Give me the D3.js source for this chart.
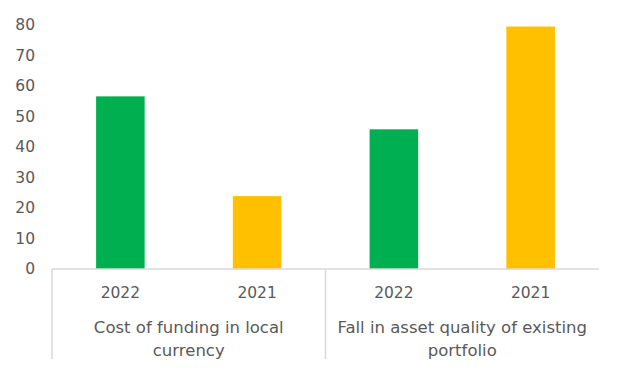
<!DOCTYPE html>
<html>
<head>
<meta charset="utf-8">
<script src="https://cdn.jsdelivr.net/npm/d3@7"></script>
<style>
  body { margin: 0; background: #fff; }
  text { font-family: "DejaVu Sans", sans-serif; fill: #595959; }
</style>
</head>
<body>
<div id="chart"></div>
<script>
/* DATA */
var groups = ["Cost of funding in local currency", "Fall in asset quality of existing portfolio"];
var years = ["2022", "2021"];
var values = [56.6, 23.9, 45.8, 79.5];
var yTicks = [0, 10, 20, 30, 40, 50, 60, 70, 80];
var barColors = ["#00B050", "#FFC000"];

/* one entry per bar, built from the arrays above */
var bars = [];
groups.forEach(function (g, gi) {
  years.forEach(function (yr, yi) {
    bars.push({ key: gi + "-" + yr, group: gi, year: yr, yi: yi, value: values[gi * years.length + yi] });
  });
});

var W = 620, H = 381;
var margin = { top: 25, right: 21, bottom: 112, left: 52 };
var width = W - margin.left - margin.right,
    height = H - margin.top - margin.bottom;

var svg = d3.select("#chart").append("svg")
  .attr("width", W)
  .attr("height", H)
  .append("g")
  .attr("transform", "translate(" + margin.left + "," + margin.top + ")");

/* scales */
var x = d3.scaleBand()
  .domain(bars.map(function (d) { return d.key; }))
  .range([0, width])
  .paddingInner(0.645)
  .paddingOuter(0.3225);

var y = d3.scaleLinear().domain([0, 80]).range([height, 0]);

/* y axis labels only */
var yAxis = svg.append("g")
  .call(d3.axisLeft(y).tickValues(yTicks).tickSize(0).tickPadding(17));
yAxis.select(".domain").remove();
yAxis.selectAll("text").style("font-size", "15.5px").style("font-family", null).attr("fill", "#595959");

/* bars */
svg.selectAll(".bar")
  .data(bars)
  .enter().append("rect")
  .attr("class", "bar")
  .attr("x", function (d) { return x(d.key); })
  .attr("width", x.bandwidth())
  .attr("y", function (d) { return y(d.value); })
  .attr("height", function (d) { return height - y(d.value); })
  .style("fill", function (d) { return barColors[d.yi]; });

/* baseline */
svg.append("line")
  .attr("x1", 0).attr("x2", width)
  .attr("y1", height).attr("y2", height)
  .style("stroke", "#D9D9D9").style("stroke-width", 1.5);

/* group separators */
var step = x.step();
var groupW = step * years.length;
for (var i = 0; i < groups.length; i++) {
  svg.append("line")
    .attr("x1", i * groupW).attr("x2", i * groupW)
    .attr("y1", height).attr("y2", height + 90)
    .style("stroke", "#D9D9D9").style("stroke-width", 1.5);
}

/* year labels */
svg.selectAll(".yr")
  .data(bars)
  .enter().append("text")
  .attr("class", "yr")
  .attr("x", function (d) { return x(d.key) + x.bandwidth() / 2; })
  .attr("y", height + 24)
  .attr("dy", "0.35em")
  .style("text-anchor", "middle")
  .style("font-size", "15.5px")
  .text(function (d) { return d.year; });

/* group labels, wrapped */
function wrap(str, maxW, el) {
  var words = str.split(" "), lines = [], line = [];
  var probe = el.append("tspan");
  words.forEach(function (w) {
    line.push(w);
    probe.text(line.join(" "));
    if (probe.node().getComputedTextLength() > maxW && line.length > 1) {
      line.pop();
      lines.push(line.join(" "));
      line = [w];
    }
  });
  lines.push(line.join(" "));
  probe.remove();
  return lines;
}

groups.forEach(function (g, gi) {
  var t = svg.append("text")
    .attr("y", height + 58)
    .style("text-anchor", "middle")
    .style("font-size", "16.5px");
  var cx = gi * groupW + groupW / 2;
  var lines = wrap(g, 260, t);
  lines.forEach(function (l, li) {
    t.append("tspan")
      .attr("x", cx)
      .attr("dy", li === 0 ? "0.35em" : "23px")
      .text(l);
  });
});
</script>
</body>
</html>
